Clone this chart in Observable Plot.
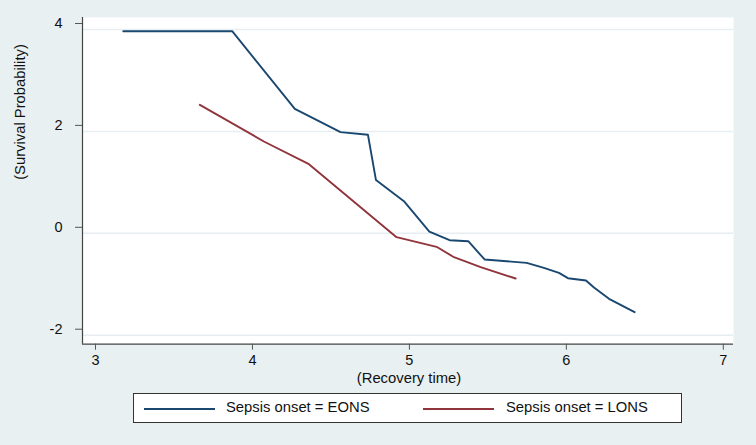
<!DOCTYPE html>
<html>
<head>
<meta charset="utf-8">
<script src="https://cdn.jsdelivr.net/npm/d3@7"></script>
<script src="https://cdn.jsdelivr.net/npm/@observablehq/plot@0.6"></script>
<style>
  html, body { margin: 0; padding: 0; background: #E8F0F2; }
  #wrap { position: relative; width: 756px; height: 445px; background: #E8F0F2; font-family: "Liberation Sans", Arial, sans-serif; }
  #wrap svg { position: absolute; left: 0; top: 0; }
  #legend { position: absolute; left: 133px; top: 393px; width: 549px; height: 30px; background: #fff; border: 1px solid #333; box-sizing: border-box; }
  .sw { position: absolute; top: 14px; width: 71px; height: 0; border-top: 2px solid; }
  .lt { position: absolute; top: 5px; font-size: 14.8px; color: #111; white-space: nowrap; }
</style>
</head>
<body>
<div id="wrap"></div>
<script>
// Data
const eonsX = [3.177, 3.871, 4.270, 4.561, 4.736, 4.787, 4.965, 5.127, 5.256, 5.375, 5.479, 5.747, 5.857, 5.953, 6.010, 6.125, 6.176, 6.272, 6.435];
const eonsY = [3.967, 3.967, 2.443, 1.985, 1.933, 1.045, 0.630, 0.035, -0.135, -0.155, -0.514, -0.580, -0.678, -0.776, -0.881, -0.926, -1.064, -1.286, -1.548];
const lonsX = [3.665, 4.073, 4.360, 4.918, 5.173, 5.284, 5.454, 5.677];
const lonsY = [2.522, 1.802, 1.357, -0.076, -0.265, -0.469, -0.665, -0.887];
const xTicks = [3, 4, 5, 6, 7];
const yTicks = [-2, 0, 2, 4];
const seriesNames = ["Sepsis onset = EONS", "Sepsis onset = LONS"];
const seriesColors = ["#1A476F", "#90353B"];
const xLabel = "(Recovery time)";
const yLabel = "(Survival Probability)";

const eons = eonsX.map((x, i) => ({x, y: eonsY[i]}));
const lons = lonsX.map((x, i) => ({x, y: lonsY[i]}));
const xDomain = [2.9172, 7.065];
const yDomain = [-2.1766, 4.2355];

const W = 756, H = 390;
const chart = Plot.plot({
  width: W, height: H,
  marginLeft: 82, marginRight: 23, marginTop: 17, marginBottom: H - 343.7,
  style: {background: "transparent", fontFamily: "'Liberation Sans', Arial, sans-serif", fontSize: "14.5px", color: "#111"},
  x: {domain: xDomain},
  y: {domain: yDomain},
  marks: [
    Plot.frame({fill: "white", stroke: null}),
    Plot.ruleY(yTicks, {stroke: "#E6EEF1", strokeWidth: 1.5}),
    Plot.line(eons, {x: "x", y: "y", stroke: seriesColors[0], strokeWidth: 1.9}),
    Plot.line(lons, {x: "x", y: "y", stroke: seriesColors[1], strokeWidth: 1.9}),
    Plot.ruleX([xDomain[0]], {stroke: "#444", strokeWidth: 1.2}),
    Plot.ruleY([yDomain[0]], {stroke: "#444", strokeWidth: 1.2}),
    Plot.axisX({ticks: xTicks, tickSize: 6, tickPadding: 5, tickFormat: d => String(d), label: null, fontSize: 14.5, stroke: "#555"}),
    Plot.axisY({ticks: yTicks, tickSize: 7, tickPadding: 13, dy: -6, tickFormat: d => String(d), label: null, fontSize: 14.5, stroke: "#555"})
  ]
});
const svg = d3.select(chart);
svg.append("text").attr("x", 409).attr("y", 383).attr("text-anchor", "middle")
  .attr("font-size", 14.8).attr("fill", "#111").text(xLabel);
svg.append("text").attr("transform", "translate(25,112) rotate(-90)").attr("text-anchor", "middle")
  .attr("font-size", 14.8).attr("fill", "#111").text(yLabel);
document.getElementById("wrap").appendChild(chart);

const legend = document.createElement("div");
legend.id = "legend";
const items = [{sx: 10, tx: 92}, {sx: 289, tx: 372}];
items.forEach((it, i) => {
  const sw = document.createElement("div");
  sw.className = "sw"; sw.style.left = it.sx + "px"; sw.style.borderTopColor = seriesColors[i];
  const lt = document.createElement("div");
  lt.className = "lt"; lt.style.left = it.tx + "px"; lt.textContent = seriesNames[i];
  legend.appendChild(sw); legend.appendChild(lt);
});
document.getElementById("wrap").appendChild(legend);
</script>
</body>
</html>
